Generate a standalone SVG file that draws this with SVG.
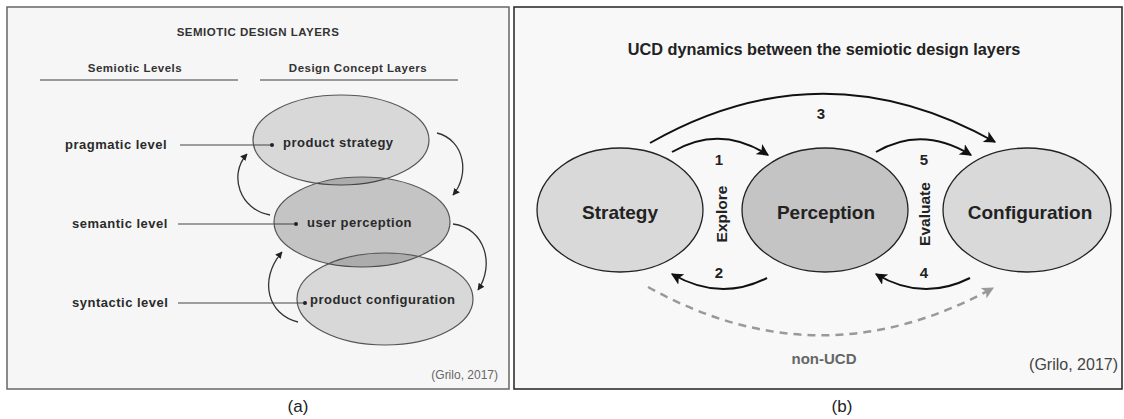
<svg xmlns="http://www.w3.org/2000/svg" width="1124" height="419" viewBox="0 0 1124 419">
<style>
text{font-family:"Liberation Sans",Arial,sans-serif;}
.lb{font-weight:bold;fill:#2a2a2a;font-size:13px;letter-spacing:0.5px;}
.sh{font-weight:bold;fill:#333;font-size:11.5px;letter-spacing:0.5px;}
.hd{font-weight:bold;fill:#333;font-size:11.5px;letter-spacing:0.5px;}
.rb{font-weight:bold;fill:#222;}
.ptr{stroke:#444;stroke-width:1.2;fill:none;}
.la{stroke:#333;stroke-width:1.3;fill:none;marker-end:url(#ah);}
.ra{stroke:#111;stroke-width:2;fill:none;marker-end:url(#bh);}
.ell{stroke:#555;stroke-width:1.2;}
.rel{stroke:#222;stroke-width:1.3;}
</style>
<defs>
<marker id="ah" viewBox="0 0 10 10" refX="9" refY="5" markerWidth="7" markerHeight="7" markerUnits="userSpaceOnUse" orient="auto"><path d="M0,0 L10,5 L0,10 z" fill="#222"/></marker>
<marker id="bh" viewBox="0 0 10 10" refX="9" refY="5" markerWidth="12" markerHeight="12" markerUnits="userSpaceOnUse" orient="auto"><path d="M0,0 L10,5 L0,10 L2.5,5 z" fill="#111"/></marker>
<marker id="gh" viewBox="0 0 10 10" refX="9" refY="5" markerWidth="12" markerHeight="12" markerUnits="userSpaceOnUse" orient="auto"><path d="M0,0 L10,5 L0,10 L2.5,5 z" fill="#999"/></marker>
</defs>
<rect width="1124" height="419" fill="#ffffff"/>
<!-- Panel (a) -->
<rect x="7" y="7" width="502" height="382" fill="#f6f6f6" stroke="#666" stroke-width="1.5"/>
<text x="258" y="36" text-anchor="middle" class="hd">SEMIOTIC DESIGN LAYERS</text>
<text x="135" y="72" text-anchor="middle" class="sh">Semiotic Levels</text>
<text x="358" y="72" text-anchor="middle" class="sh">Design Concept Layers</text>
<line x1="40" y1="80" x2="238" y2="80" stroke="#999" stroke-width="2"/>
<line x1="260" y1="80" x2="458" y2="80" stroke="#999" stroke-width="2"/>
<g id="a-strategy">
<ellipse cx="341" cy="140" rx="88" ry="45" fill="#000" fill-opacity="0.12" class="ell"/>
<text x="283" y="147" class="lb">product strategy</text>
</g>
<g id="a-perception">
<ellipse cx="362" cy="222" rx="88" ry="45" fill="#000" fill-opacity="0.2" class="ell"/>
<text x="307" y="227" class="lb">user perception</text>
</g>
<g id="a-configuration">
<ellipse cx="385" cy="299" rx="88" ry="46" fill="#000" fill-opacity="0.12" class="ell"/>
<text x="310" y="304" class="lb">product configuration</text>
</g>
<g id="a-levels">
<text x="65" y="149" class="lb">pragmatic level</text>
<text x="72" y="228" class="lb">semantic level</text>
<text x="72" y="307" class="lb">syntactic level</text>
</g>
<g id="a-connectors">
<line x1="180" y1="145" x2="272" y2="145" class="ptr"/><circle cx="272" cy="145" r="2" fill="#222"/>
<line x1="178" y1="224" x2="296" y2="224" class="ptr"/><circle cx="296" cy="224" r="2" fill="#222"/>
<line x1="178" y1="303" x2="305" y2="303" class="ptr"/><circle cx="305" cy="303" r="2" fill="#222"/>
<path d="M270,215 C240,210 228,175 247,154" class="la"/>
<path d="M298,322 C268,315 258,280 282,252" class="la"/>
<path d="M437,133 C465,140 470,175 453,195" class="la"/>
<path d="M453,224 C485,228 495,265 478,290" class="la"/>
</g>
<text x="498" y="379" text-anchor="end" font-size="12" fill="#666">(Grilo, 2017)</text>
<text x="298" y="412" text-anchor="middle" font-size="17" fill="#222">(a)</text>
<!-- Panel (b) -->
<rect x="514" y="7" width="608" height="382" fill="#f8f8f8" stroke="#222" stroke-width="1.5"/>
<text x="824" y="55" text-anchor="middle" class="rb" font-size="16.3">UCD dynamics between the semiotic design layers</text>
<g id="b-strategy">
<ellipse cx="620" cy="210" rx="83" ry="62" fill="#d9d9d9" class="rel"/>
<text x="620" y="219" text-anchor="middle" class="rb" font-size="19">Strategy</text>
</g>
<g id="b-perception">
<ellipse cx="825" cy="210" rx="83" ry="62" fill="#c4c4c4" class="rel"/>
<text x="826" y="219" text-anchor="middle" class="rb" font-size="19">Perception</text>
</g>
<g id="b-configuration">
<ellipse cx="1027" cy="210" rx="84" ry="62" fill="#d9d9d9" class="rel"/>
<text x="1030" y="219" text-anchor="middle" class="rb" font-size="19">Configuration</text>
</g>
<g id="b-connectors">
<path d="M650,143 Q822,45 995,142" class="ra"/>
<path d="M672,152 Q720,124 768,155" class="ra"/>
<path d="M876,152 Q922,125 971,155" class="ra"/>
<path d="M767,278 Q720,302 672,274" class="ra"/>
<path d="M970,278 Q922,302 876,274" class="ra"/>
<path d="M648,287 Q820,383 993,288" stroke="#999" stroke-width="2.5" fill="none" stroke-dasharray="8,6" marker-end="url(#gh)"/>
</g>
<g id="b-labels">
<text x="821" y="119" text-anchor="middle" class="rb" font-size="15">3</text>
<text x="719" y="165" text-anchor="middle" class="rb" font-size="15">1</text>
<text x="924" y="165" text-anchor="middle" class="rb" font-size="15">5</text>
<text x="719" y="278" text-anchor="middle" class="rb" font-size="15">2</text>
<text x="924" y="278" text-anchor="middle" class="rb" font-size="15">4</text>
<text transform="translate(727,214) rotate(-90)" text-anchor="middle" class="rb" font-size="15.5">Explore</text>
<text transform="translate(930,214) rotate(-90)" text-anchor="middle" class="rb" font-size="15.5">Evaluate</text>
<text x="824" y="364" text-anchor="middle" font-weight="bold" font-size="15" fill="#666">non-UCD</text>
</g>
<text x="1118" y="370" text-anchor="end" font-size="16" fill="#444">(Grilo, 2017)</text>
<text x="842" y="412" text-anchor="middle" font-size="17" fill="#222">(b)</text>
</svg>
